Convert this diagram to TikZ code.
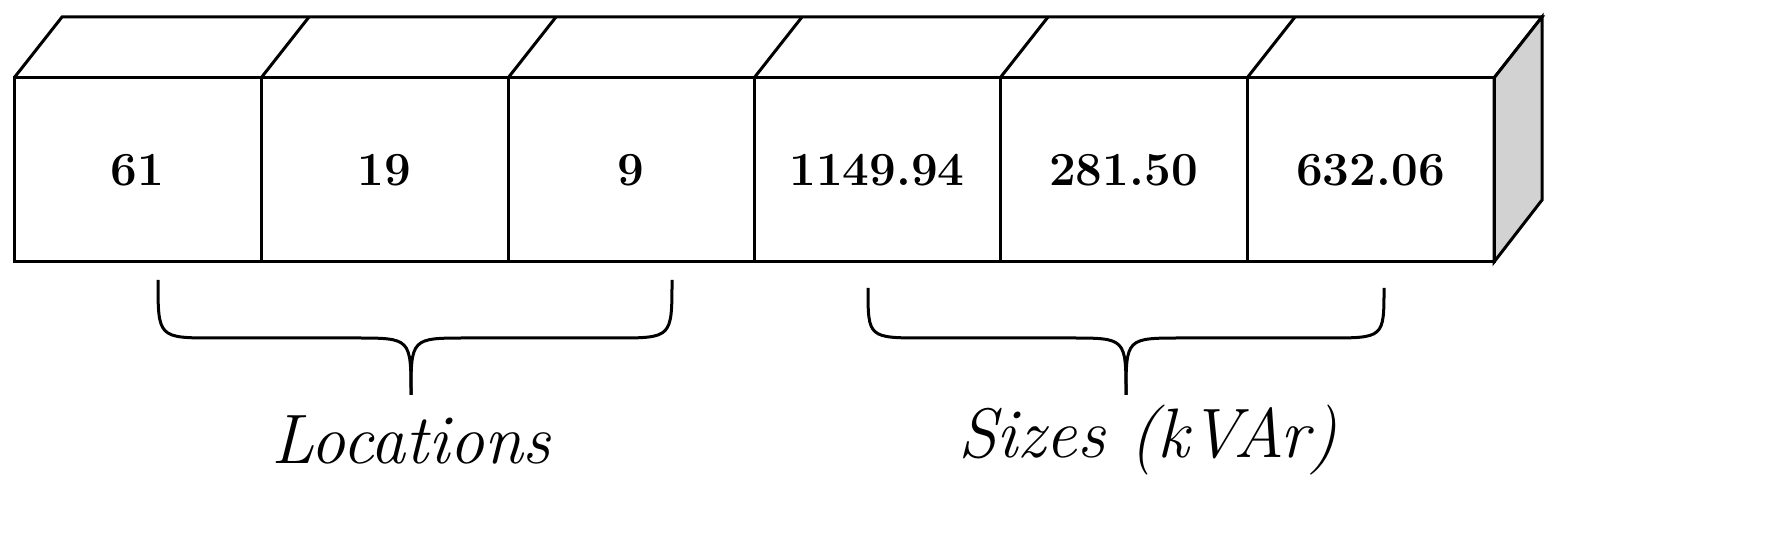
\documentclass[tikz,border=0pt]{standalone}
\begin{document}
\begin{tikzpicture}[x=0.4pt,y=-0.4pt,line width=1.2pt,line join=miter,
  num/.style={font=\fontsize{19}{23}\selectfont\bfseries},
  lab/.style={font=\fontsize{28}{32}\selectfont\itshape}]
\useasboundingbox (0,0) rectangle (1784,557);
% top face
\draw (14,78) -- (62,17) -- (1542,17) -- (1494,78);
\foreach \x in {261,508,754,1000,1247} \draw (\x,78) -- (\x+48,17);
% right face
\draw[fill=gray!35] (1494,78) -- (1542,17) -- (1542,200) -- (1494,262) -- cycle;
% front boxes
\foreach \a/\b/\t/\n in {14/261/61/b1,261/508/19/b2,508/754/9/b3,754/1000/1149.94/b4,1000/1247/281.50/b5,1247/1494/632.06/b6}{
  \draw (\a,78) rectangle (\b,262);
  \node[num] (\n) at ({(\a+\b)/2},170) {\t};
}
% braces
\coordinate (t1) at (411,395);
\coordinate (t2) at (1126,395);
\draw (158,280) .. controls (158,338) .. (215,338) -- (355,338) .. controls (411,338) .. (t1);
\draw (672,280) .. controls (672,338) .. (615,338) -- (467,338) .. controls (411,338) .. (t1);
\draw (868,288) .. controls (868,338) .. (925,338) -- (1070,338) .. controls (1126,338) .. (t2);
\draw (1384,288) .. controls (1384,338) .. (1327,338) -- (1182,338) .. controls (1126,338) .. (t2);
\node[lab] (l1) at (411,440) {Locations};
\node[lab] (l2) at (1148,440) {Sizes (kVAr)};
\end{tikzpicture}
\end{document}
